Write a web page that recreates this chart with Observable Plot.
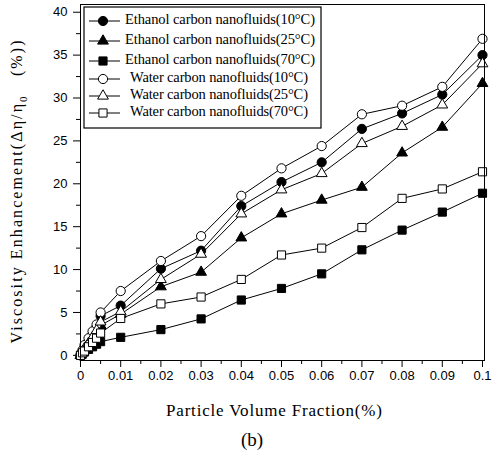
<!DOCTYPE html>
<html><head><meta charset="utf-8">
<script src="https://cdn.jsdelivr.net/npm/d3@7"></script>
<script src="https://cdn.jsdelivr.net/npm/@observablehq/plot@0.6"></script>
<style>body{margin:0;background:#fff}</style>
</head><body><div id="chart"></div>
<script>
// ---- data ----
const fractions = [0, 0.0005, 0.001, 0.002, 0.003, 0.004, 0.005, 0.01, 0.02, 0.03, 0.04, 0.05, 0.06, 0.07, 0.08, 0.09, 0.1];
const ethanol10 = [0, 0.4, 0.9, 1.6, 2.4, 3.3, 4.6, 5.8, 10.1, 12.2, 17.4, 20.2, 22.5, 26.4, 28.2, 30.4, 35.0];
const ethanol25 = [0, 0.3, 0.6, 1.2, 1.8, 2.6, 3.5, 4.8, 8.0, 9.7, 13.7, 16.5, 18.1, 19.6, 23.6, 26.6, 31.7];
const ethanol70 = [0, 0.2, 0.4, 0.7, 1.0, 1.3, 1.6, 2.1, 3.0, 4.25, 6.45, 7.8, 9.5, 12.3, 14.6, 16.7, 18.9];
const water10   = [0, 0.6, 1.2, 2.0, 2.8, 3.6, 5.0, 7.5, 11.0, 13.9, 18.6, 21.8, 24.4, 28.1, 29.1, 31.3, 36.9];
const water25   = [0, 0.4, 0.8, 1.4, 2.1, 2.9, 3.9, 5.1, 8.85, 11.8, 16.5, 19.3, 21.2, 24.7, 26.7, 29.2, 34.0];
const water70   = [0, 0.3, 0.5, 1.0, 1.5, 2.0, 2.6, 4.3, 6.0, 6.8, 8.85, 11.7, 12.5, 14.9, 18.3, 19.4, 21.4];
const seriesNames = [
  "Ethanol carbon nanofluids(10°C)",
  "Ethanol carbon nanofluids(25°C)",
  "Ethanol carbon nanofluids(70°C)",
  "Water carbon nanofluids(10°C)",
  "Water carbon nanofluids(25°C)",
  "Water carbon nanofluids(70°C)"
];
const xTicks = [0, 0.01, 0.02, 0.03, 0.04, 0.05, 0.06, 0.07, 0.08, 0.09, 0.1];
const xTickLabels = ["0", "0.01", "0.02", "0.03", "0.04", "0.05", "0.06", "0.07", "0.08", "0.09", "0.1"];
const xMinorTicks = [0.005, 0.015, 0.025, 0.035, 0.045, 0.055, 0.065, 0.075, 0.085, 0.095];
const yTicks = [0, 5, 10, 15, 20, 25, 30, 35, 40];
const yMinorTicks = [2.5, 7.5, 12.5, 17.5, 22.5, 27.5, 32.5, 37.5];
const xTitle = "Particle Volume Fraction(%)";
const panelLabel = "(b)";

// ---- build ----
const seriesValues = [ethanol10, ethanol25, ethanol70, water10, water25, water70];
const symbols = ["circle", "triangle", "square", "circle", "triangle", "square"];
const filled = [true, true, true, false, false, false];
const rows = seriesValues.map((vals, s) => vals.map((v, i) => ({x: fractions[i], y: v, series: seriesNames[s]})));
const xLabelMap = new Map(xTicks.map((t, i) => [t, xTickLabels[i]]));
const sans = 'Arial, "Liberation Sans", sans-serif';
const serif = '"Liberation Serif", "Times New Roman", serif';

const marks = [
  Plot.axisX({ticks: xMinorTicks, tickSize: 4, tickFormat: () => "", label: null}),
  Plot.axisX({ticks: xTicks, tickSize: 7, tickPadding: 3, tickFormat: d => xLabelMap.get(d), label: null, fontFamily: sans}),
  Plot.axisY({ticks: yMinorTicks, tickSize: 4, tickFormat: () => "", label: null}),
  Plot.axisY({ticks: yTicks, tickSize: 7, tickPadding: 6, label: null, fontFamily: sans}),
];
rows.forEach(r => marks.push(Plot.line(r, {x: "x", y: "y", stroke: "black", strokeWidth: 1})));
rows.forEach((r, s) => marks.push(Plot.dot(r, {
  x: "x", y: "y", symbol: symbols[s], r: symbols[s] === "triangle" ? 4 : 4.6,
  fill: filled[s] ? "black" : "white", stroke: "black", strokeWidth: 1
})));
marks.push(Plot.frame({stroke: "black", strokeWidth: 1}));

const svg = Plot.plot({
  width: 496, height: 458,
  marginLeft: 80, marginRight: 12, marginTop: 4, marginBottom: 98,
  x: {domain: [0, 0.1005], label: null},
  y: {domain: [-0.6, 40.9], label: null},
  style: {fontFamily: sans, fontSize: "13px", color: "#000", background: "#fff"},
  marks
});
document.getElementById("chart").appendChild(svg);

const sel = d3.select(svg);

// axis titles
sel.append("text").attr("x", 274).attr("y", 412).attr("text-anchor", "middle")
  .attr("dominant-baseline", "middle").style("font-family", serif).style("font-size", "17px")
  .attr("textLength", 216).attr("lengthAdjust", "spacing")
  .attr("fill", "#000").text(xTitle);
sel.append("text").attr("x", 252).attr("y", 442).attr("text-anchor", "middle")
  .attr("dominant-baseline", "middle").style("font-family", serif).style("font-size", "19px")
  .attr("fill", "#000").text(panelLabel);
const yt = sel.append("text").attr("transform", "translate(18,192) rotate(-90)")
  .attr("text-anchor", "middle").attr("dominant-baseline", "middle")
  .attr("textLength", 303).attr("lengthAdjust", "spacing")
  .style("font-family", serif).style("font-size", "16px").attr("fill", "#000");
yt.append("tspan").text("Viscosity Enhancement(Δη/η");
yt.append("tspan").attr("baseline-shift", "sub").style("font-size", "11px").text("0");
yt.append("tspan").text("\u00a0\u00a0\u00a0(%))");

// legend
const lg = sel.append("g");
lg.append("rect").attr("x", 84).attr("y", 7).attr("width", 237).attr("height", 121)
  .attr("fill", "white").attr("stroke", "black").attr("stroke-width", 1.2);
const rowY = [21, 41, 61, 79, 96, 113];
const symGen = {circle: d3.symbolCircle, triangle: d3.symbolTriangle, square: d3.symbolSquare};
seriesNames.forEach((name, i) => {
  const y = rowY[i];
  lg.append("line").attr("x1", 89).attr("x2", 120).attr("y1", y).attr("y2", y).attr("stroke", "black");
  const rr = symbols[i] === "triangle" ? 4 : 4.6;
  lg.append("path").attr("transform", `translate(103,${y})`)
    .attr("d", d3.symbol(symGen[symbols[i]], Math.PI * rr * rr)())
    .attr("fill", filled[i] ? "black" : "white").attr("stroke", "black");
  lg.append("text").attr("x", filled[i] ? 125 : 130).attr("y", y)
    .attr("text-anchor", "start").attr("dominant-baseline", "middle")
    .attr("textLength", filled[i] ? 190 : 178).attr("lengthAdjust", "spacing")
    .style("font-family", serif).style("font-size", "14.5px").attr("fill", "#000").text(name);
});
</script>
</body></html>
